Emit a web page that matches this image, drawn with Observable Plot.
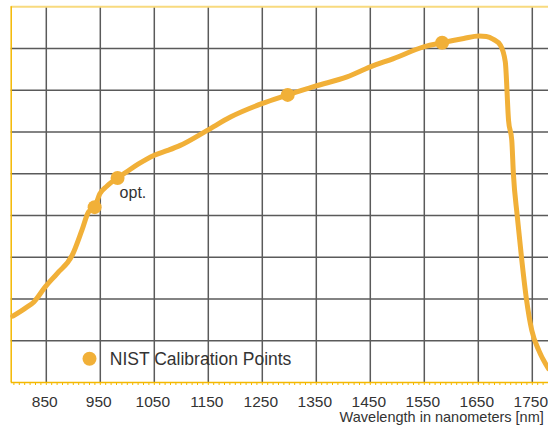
<!DOCTYPE html>
<html>
<head>
<meta charset="utf-8">
<script src="https://cdn.jsdelivr.net/npm/d3@7"></script>
<script src="https://cdn.jsdelivr.net/npm/@observablehq/plot@0.6"></script>
<style>
  html, body { margin: 0; padding: 0; background: #ffffff; }
  #chart svg { display: block; }
</style>
</head>
<body>
<div id="chart"></div>
<script>
// Spectral response curve (wavelength in nm, relative response in grid units)
const curveWavelength = [788, 810, 827, 848, 870, 898, 916, 928, 939.5, 949, 962, 982, 996, 1020, 1049, 1075, 1098, 1148, 1191, 1249, 1297, 1348, 1407, 1450, 1493, 1549, 1583, 1623, 1651, 1665, 1678, 1691, 1700, 1706, 1712, 1715, 1722, 1730, 1739, 1749, 1762, 1780];
const curveResponse   = [1.59, 1.77, 1.93, 2.29, 2.61, 3.05, 3.65, 4.08, 4.20, 4.52, 4.70, 4.90, 5.02, 5.23, 5.44, 5.56, 5.68, 6.04, 6.36, 6.68, 6.89, 7.10, 7.32, 7.56, 7.76, 8.04, 8.14, 8.24, 8.30, 8.29, 8.22, 8.08, 7.68, 6.28, 5.80, 5.00, 4.00, 3.00, 2.01, 1.25, 0.77, 0.33];

// NIST calibration points
const nistWavelength = [939.5, 982, 1297, 1583];
const nistResponse   = [4.20, 4.90, 6.89, 8.14];
const optIndex = 1;

// Axis ticks
const xTickLabels = [850, 950, 1050, 1150, 1250, 1350, 1450, 1550, 1650, 1750];
const xMinorTicks = d3.range(790, 1781, 10);
const yGridLines = [1, 2, 3, 4, 5, 6, 7, 8];

const legendLabel = "NIST Calibration Points";
const optLabel = "opt.";
const xAxisTitle = "Wavelength in nanometers [nm]";

const curve = curveWavelength.map((w, i) => ({w, r: curveResponse[i]}));
const nist = nistWavelength.map((w, i) => ({w, r: nistResponse[i]}));

const orange = "#F1B038";
const axisYellow = "#F4B800";
const gridGray = "#5a5a5a";
const textColor = "#333333";

const chart = Plot.plot({
  width: 548,
  height: 428,
  marginTop: 6.3,
  marginBottom: 46,
  marginLeft: 10.7,
  marginRight: 0,
  style: {fontFamily: "'Liberation Sans', Arial, sans-serif", background: "#ffffff"},
  x: {domain: [785, 1780], axis: null},
  y: {domain: [0, 9], axis: null},
  marks: [
    Plot.ruleX(xTickLabels, {stroke: gridGray, strokeWidth: 1.5}),
    Plot.ruleY(yGridLines, {stroke: gridGray, strokeWidth: 1.5}),
    Plot.ruleY([9], {stroke: "#F8DA7E", strokeWidth: 2}),
    Plot.ruleX([785], {stroke: axisYellow, strokeWidth: 1.5}),
    Plot.ruleX(xMinorTicks, {y1: 0, y2: 0, insetBottom: -3, stroke: axisYellow, strokeWidth: 1}),
    Plot.ruleY([0], {stroke: axisYellow, strokeWidth: 1.5}),
    Plot.axisX(xTickLabels, {tickSize: 0, tickPadding: 13.3, tickFormat: d => String(d), fontSize: 15.5, dx: -1.5, fill: textColor, label: null}),
    Plot.text([xAxisTitle], {frameAnchor: "bottom-right", text: d => d, textAnchor: "end", lineAnchor: "bottom", dx: -4.7, dy: 39.5, fontSize: 14.5, fill: textColor}),
    Plot.line(curve, {x: "w", y: "r", stroke: orange, strokeWidth: 5, curve: "monotone-x"}),
    Plot.dot(nist, {x: "w", y: "r", r: 7, fill: orange}),
    Plot.text([nist[optIndex]], {x: "w", y: "r", text: () => optLabel, textAnchor: "start", lineAnchor: "bottom", dx: 2, dy: 19.6, fontSize: 16, fill: textColor}),
    Plot.dot([legendLabel], {frameAnchor: "bottom-left", dx: 78.3, dy: -23.7, r: 7, fill: orange}),
    Plot.text([legendLabel], {frameAnchor: "bottom-left", text: d => d, textAnchor: "start", lineAnchor: "bottom", dx: 98.6, dy: -17.7, fontSize: 17.5, fill: textColor})
  ]
});

document.getElementById("chart").appendChild(chart);
</script>
</body>
</html>
